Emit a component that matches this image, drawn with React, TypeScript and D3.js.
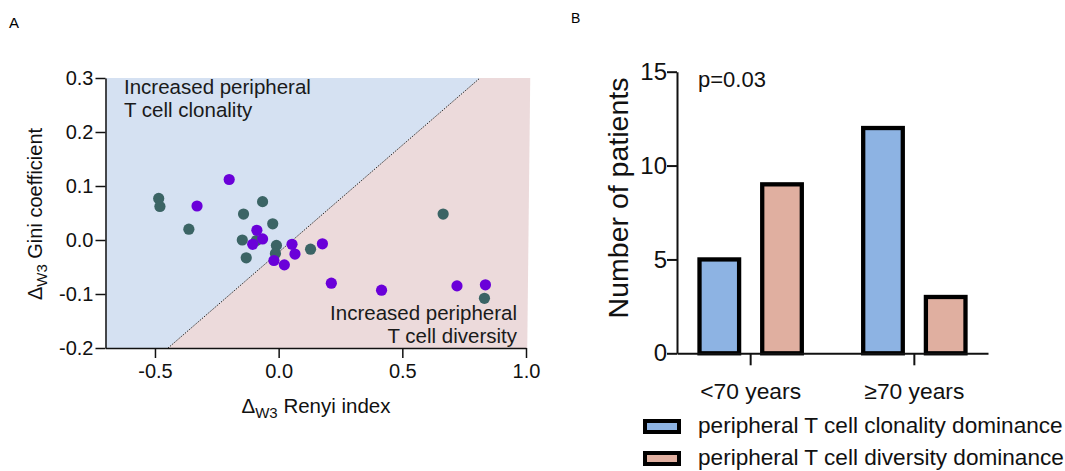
import React, { useEffect, useRef } from 'react';
import * as d3 from 'd3';

// Panel A: change of Gini coefficient vs change of Renyi index, two groups of patients
const tealPoints: [number, number][] = [
    [-0.485, 0.077], [-0.48, 0.062], [-0.363, 0.02], [-0.142, 0.048], [-0.065, 0.071],
    [-0.024, 0.03], [-0.147, 0.0], [-0.09, -0.001], [-0.131, -0.033], [-0.009, -0.01],
    [-0.013, -0.025], [0.129, -0.017], [0.665, 0.048], [0.832, -0.108],
];
const purplePoints: [number, number][] = [
    [-0.2, 0.112], [-0.33, 0.063], [-0.088, 0.018], [-0.065, 0.002], [-0.105, -0.008],
    [0.054, -0.008], [0.066, -0.026], [-0.019, -0.038], [0.023, -0.046], [0.177, -0.007],
    [0.213, -0.08], [0.416, -0.093], [0.721, -0.085], [0.836, -0.083],
];
// dotted separation line (start / end in data units)
const diagonal: [number, number][] = [[-0.447, -0.2], [0.814, 0.3]];
const renyiDomain = [-0.7, 1.0];
const giniDomain = [-0.2, 0.3];
const renyiTicks = [-0.5, 0, 0.5, 1.0];
const giniTicks = [-0.2, -0.1, 0, 0.1, 0.2, 0.3];

// Panel B: number of patients per age group
const ageGroups = ['<70 years', '≥70 years'];
const seriesNames = ['peripheral T cell clonality dominance', 'peripheral T cell diversity dominance'];
const clonalityCounts = [5, 12];
const diversityCounts = [9, 3];
const patientTicks = [0, 5, 10, 15];

const FONT = '"Liberation Sans", Arial, Helvetica, sans-serif';
const BLUE_BG = '#d5e1f2';
const PINK_BG = '#ecdadb';
const TEAL = '#3b6465';
const PURPLE = '#6a00d9';
const BAR_COLORS = ['#8db3e3', '#e0afa0'];

function drawScatter(svg: d3.Selection<SVGSVGElement, unknown, null, undefined>) {
    const x = d3.scaleLinear(renyiDomain, [105.5, 526]);
    const y = d3.scaleLinear(giniDomain, [348, 78]);
    const g = svg.append('g');

    const [d0, d1] = diagonal;
    const xRight = 1.005;
    // shaded halves
    g.append('path')
        .attr('fill', BLUE_BG)
        .attr('d', d3.line()([
            [x(renyiDomain[0]), y(giniDomain[0])], [x(d0[0]), y(d0[1])],
            [x(d1[0]), y(d1[1])], [x(renyiDomain[0]), y(giniDomain[1])],
        ]) + 'Z');
    g.append('path')
        .attr('fill', PINK_BG)
        .attr('d', d3.line()([
            [x(d0[0]), y(d0[1])], [x(xRight), y(giniDomain[0])],
            [x(xRight) + 3, y(giniDomain[1])], [x(d1[0]), y(d1[1])],
        ]) + 'Z');

    g.append('line')
        .attr('x1', x(d0[0])).attr('y1', y(d0[1]))
        .attr('x2', x(d1[0])).attr('y2', y(d1[1]))
        .attr('stroke', '#111')
        .attr('stroke-width', 1)
        .attr('stroke-dasharray', '1.2,1.3');

    g.selectAll('circle.teal')
        .data(tealPoints)
        .join('circle')
        .attr('class', 'teal')
        .attr('cx', d => x(d[0]))
        .attr('cy', d => y(d[1]))
        .attr('r', 5.6)
        .attr('fill', TEAL);
    g.selectAll('circle.purple')
        .data(purplePoints)
        .join('circle')
        .attr('class', 'purple')
        .attr('cx', d => x(d[0]))
        .attr('cy', d => y(d[1]))
        .attr('r', 5.6)
        .attr('fill', PURPLE);

    // region annotations
    const note = (tx: number, ty: number, s: string, anchor: string) =>
        g.append('text')
            .attr('x', tx).attr('y', ty)
            .attr('text-anchor', anchor)
            .attr('font-family', FONT)
            .attr('font-size', 20.5)
            .attr('fill', '#1a1a1a')
            .text(s);
    note(124, 94, 'Increased peripheral', 'start');
    note(124, 117, 'T cell clonality', 'start');
    note(517, 320, 'Increased peripheral', 'end');
    note(517, 343, 'T cell diversity', 'end');

    const yAxis = g.append('g')
        .attr('transform', `translate(${x(renyiDomain[0])},0)`)
        .call(d3.axisLeft(y).tickValues(giniTicks).tickSize(10).tickSizeOuter(0).tickPadding(2)
            .tickFormat(d => (d as number).toFixed(1)));
    const xAxis = g.append('g')
        .attr('transform', `translate(0,${y(giniDomain[0])})`)
        .call(d3.axisBottom(x).tickValues(renyiTicks).tickSize(10).tickSizeOuter(0).tickPadding(6)
            .tickFormat(d => (d as number).toFixed(1)));
    [yAxis, xAxis].forEach(a => {
        a.attr('font-family', FONT).attr('font-size', 20);
        a.selectAll('path, line').attr('stroke', '#111').attr('stroke-width', 1.5);
        a.selectAll('text').attr('fill', '#111');
    });

    // axis titles with subscript
    const xt = g.append('text')
        .attr('x', 316).attr('y', 413)
        .attr('text-anchor', 'middle')
        .attr('font-family', FONT).attr('font-size', 20.5).attr('fill', '#111');
    xt.append('tspan').text('Δ');
    xt.append('tspan').attr('font-size', 15).attr('dy', 5).text('W3');
    xt.append('tspan').attr('dy', -5).text(' Renyi index');

    const yt = g.append('text')
        .attr('transform', 'translate(42,214) rotate(-90)')
        .attr('text-anchor', 'middle')
        .attr('font-family', FONT).attr('font-size', 20).attr('fill', '#111');
    yt.append('tspan').text('Δ');
    yt.append('tspan').attr('font-size', 15).attr('dy', 5).text('W3');
    yt.append('tspan').attr('dy', -5).text(' Gini coefficient');

    g.append('text')
        .attr('x', 9).attr('y', 28)
        .attr('font-family', FONT).attr('font-size', 15)
        .text('A');
}

function drawBars(svg: d3.Selection<SVGSVGElement, unknown, null, undefined>) {
    const x = d3.scaleBand(ageGroups, [677, 988]).paddingInner(0.5).paddingOuter(0.2);
    const xSub = d3.scaleBand(seriesNames, [-53.3, 53.3]).paddingInner(0.3);
    const y = d3.scaleLinear([0, 15], [353.3, 71.7]);
    const g = svg.append('g');
    const strokeW = 4.3;

    const rows = ageGroups.map((grp, i) => ({ grp, values: [clonalityCounts[i], diversityCounts[i]] }));
    const groups = g.selectAll('g.grp')
        .data(rows)
        .join('g')
        .attr('class', 'grp')
        .attr('transform', d => `translate(${x(d.grp)! + x.bandwidth() / 2},0)`);
    groups.selectAll('rect')
        .data(d => d.values.map((v, k) => ({ v, k })))
        .join('rect')
        .attr('x', d => xSub(seriesNames[d.k])! + strokeW / 2)
        .attr('width', xSub.bandwidth() - strokeW)
        .attr('y', d => y(d.v))
        .attr('height', d => y(0) - y(d.v))
        .attr('fill', d => BAR_COLORS[d.k])
        .attr('stroke', '#000')
        .attr('stroke-width', strokeW);

    const yAxis = g.append('g')
        .attr('transform', 'translate(677,0)')
        .call(d3.axisLeft(y).tickValues(patientTicks).tickSize(10).tickSizeOuter(0).tickPadding(0));
    yAxis.attr('font-family', FONT).attr('font-size', 24);

    const xAxis = g.append('g')
        .attr('transform', `translate(0,${y(0)})`)
        .call(d3.axisBottom(x).tickSize(12).tickSizeOuter(0).tickPadding(18));
    xAxis.attr('font-family', FONT).attr('font-size', 22.8);
    [yAxis, xAxis].forEach(a => {
        a.selectAll('path, line').attr('stroke', '#111').attr('stroke-width', 2);
        a.selectAll('text').attr('fill', '#111');
    });

    g.append('text')
        .attr('transform', 'translate(628,198) rotate(-90)')
        .attr('text-anchor', 'middle')
        .attr('font-family', FONT).attr('font-size', 28.5).attr('fill', '#111')
        .text('Number of patients');

    g.append('text')
        .attr('x', 698).attr('y', 87)
        .attr('font-family', FONT).attr('font-size', 22).attr('fill', '#111')
        .text('p=0.03');

    const legend = g.selectAll('g.legend')
        .data(seriesNames)
        .join('g')
        .attr('class', 'legend')
        .attr('transform', (_d, i) => `translate(643,${419 + i * 32})`);
    legend.append('rect')
        .attr('x', 2).attr('y', 2).attr('width', 34).attr('height', 11)
        .attr('fill', (_d, i) => BAR_COLORS[i])
        .attr('stroke', '#000')
        .attr('stroke-width', 4);
    legend.append('text')
        .attr('x', 55).attr('y', 14)
        .attr('font-family', FONT).attr('font-size', 22.6).attr('fill', '#111')
        .text(d => d);

    g.append('text')
        .attr('x', 571).attr('y', 23)
        .attr('font-family', FONT).attr('font-size', 14)
        .text('B');
}

export default function App() {
    const ref = useRef<SVGSVGElement | null>(null);
    useEffect(() => {
        if (!ref.current) return;
        const svg = d3.select(ref.current);
        svg.selectAll('*').remove();
        svg.append('rect').attr('width', 1065).attr('height', 471).attr('fill', '#fff');
        drawScatter(svg);
        drawBars(svg);
    }, []);
    return (
        <div style={{ position: 'absolute', left: 0, top: 0 }}>
            <svg ref={ref} width={1065} height={471} style={{ display: 'block' }} />
        </div>
    );
}
